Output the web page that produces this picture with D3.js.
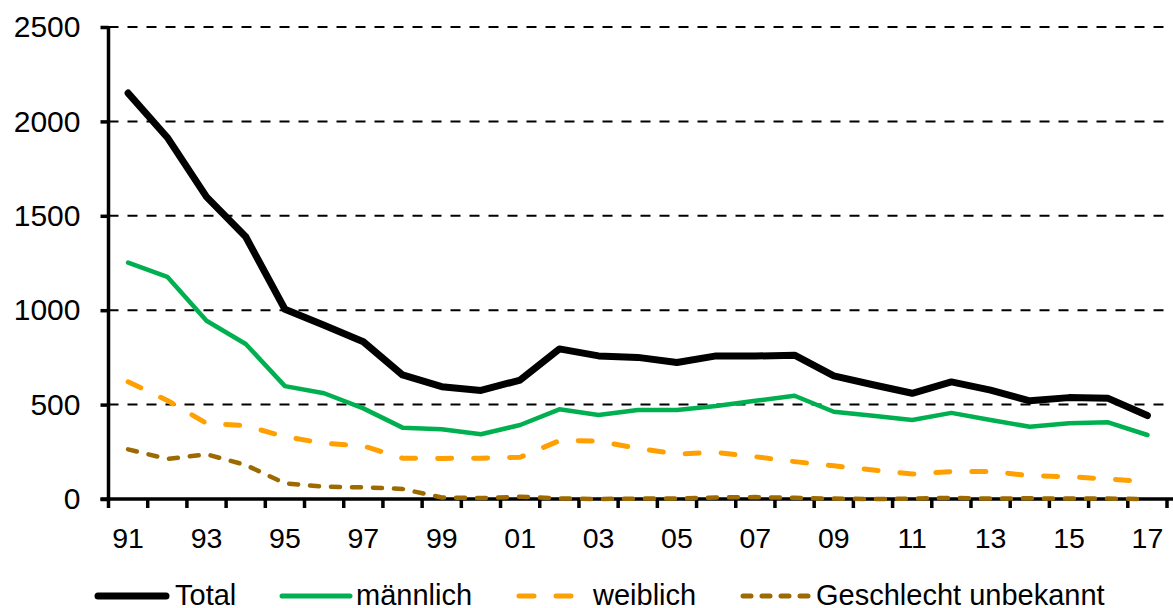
<!doctype html>
<html>
<head>
<meta charset="utf-8">
<script src="https://d3js.org/d3.v7.min.js"></script>
<style>
  body { margin: 0; background: #fff; }
  text { font-family: "Liberation Sans", Arial, sans-serif; }
</style>
</head>
<body>
<div id="chart"></div>
<script>
  var years = d3.range(1991, 2018);
  var yTicks = [0, 500, 1000, 1500, 2000, 2500];
  var total = [2150, 1915, 1600, 1389, 1005, 920, 833, 657, 595, 575, 630, 795, 758, 750, 723, 758, 757, 762, 652, 605, 560, 620, 577, 520, 537, 533, 442];
  var maennlich = [1252, 1177, 944, 821, 598, 560, 480, 378, 369, 343, 392, 475, 445, 471, 471, 493, 520, 547, 462, 441, 418, 456, 418, 383, 401, 406, 339];
  var weiblich = [621, 522, 401, 388, 330, 295, 281, 216, 215, 216, 221, 309, 307, 268, 238, 247, 224, 198, 176, 154, 132, 145, 145, 124, 118, 106, 92];
  var unbekannt = [263, 212, 237, 180, 83, 65, 62, 53, 8, 5, 12, 3, 0, 2, 3, 8, 10, 6, 2, 0, 2, 6, 2, 4, 2, 2, 0];
  var seriesNames = ["Total", "männlich", "weiblich", "Geschlecht unbekannt"];

  var width = 1173, height = 608;
  var plotLeft = 108.5, plotRight = 1167, plotTop = 27, plotBottom = 499;

  var svg = d3.select("#chart").append("svg")
    .attr("width", width)
    .attr("height", height);

  var x = d3.scaleBand()
    .domain(years)
    .range([plotLeft, plotRight]);

  var y = d3.scaleLinear()
    .domain([0, 2500])
    .range([plotBottom, plotTop]);

  // gridlines
  svg.selectAll(".grid")
    .data(yTicks.slice(1))
    .enter()
    .append("line")
    .attr("x1", plotLeft)
    .attr("x2", plotRight)
    .attr("y1", function(d) { return y(d); })
    .attr("y2", function(d) { return y(d); })
    .attr("stroke", "#000")
    .attr("stroke-width", 2)
    .attr("stroke-dasharray", "10,9");

  // Y axis
  var yAxis = svg.append("g")
    .attr("transform", "translate(" + plotLeft + ",0)")
    .call(d3.axisLeft(y).tickValues(yTicks).tickFormat(d3.format("d")).tickSize(8).tickPadding(20));
  yAxis.attr("font-size", null).attr("font-family", null);
  yAxis.select(".domain").attr("stroke-width", 3.5).attr("d", "M0," + (plotTop - 1) + "V" + (plotBottom + 1));
  yAxis.selectAll(".tick line").attr("stroke-width", 3.5);
  yAxis.selectAll("text").style("font-size", "30px").attr("fill", "#000");

  // X axis
  var xAxis = svg.append("g")
    .attr("transform", "translate(0," + plotBottom + ")");
  xAxis.append("line")
    .attr("x1", plotLeft - 8)
    .attr("x2", plotRight + 6)
    .attr("stroke", "#000")
    .attr("stroke-width", 3.5);
  var boundaries = years.map(function(d) { return x(d); }).concat([plotRight]);
  xAxis.selectAll(".xtick")
    .data(boundaries)
    .enter()
    .append("line")
    .attr("x1", function(d) { return d; })
    .attr("x2", function(d) { return d; })
    .attr("y1", 0)
    .attr("y2", 9)
    .attr("stroke", "#000")
    .attr("stroke-width", 3.5);
  xAxis.selectAll(".xlabel")
    .data(years.filter(function(d) { return d % 2 === 1; }))
    .enter()
    .append("text")
    .attr("x", function(d) { return x(d) + x.bandwidth() / 2; })
    .attr("y", 49)
    .attr("text-anchor", "middle")
    .style("font-size", "28.5px")
    .text(function(d) { return String(d % 100).padStart(2, "0"); });

  var styles = [
    { data: total, color: "#000000", width: 7, dash: null },
    { data: maennlich, color: "#00b050", width: 4.5, dash: null },
    { data: weiblich, color: "#ffa000", width: 5, dash: "14,22" },
    { data: unbekannt, color: "#9c6a00", width: 4.5, dash: "9,12" }
  ];

  var line = d3.line()
    .x(function(d, i) { return x(years[i]) + x.bandwidth() / 2; })
    .y(function(d) { return y(d); });

  svg.selectAll(".series")
    .data(styles)
    .enter()
    .append("path")
    .attr("d", function(s) { return line(s.data); })
    .attr("fill", "none")
    .attr("stroke", function(s) { return s.color; })
    .attr("stroke-width", function(s) { return s.width; })
    .attr("stroke-dasharray", function(s) { return s.dash; })
    .attr("stroke-linecap", "round")
    .attr("stroke-linejoin", "round");

  // legend
  var legendPos = [
    { x1: 98, x2: 166, tx: 175 },
    { x1: 282, x2: 350, tx: 356 },
    { x1: 519, x2: 575, tx: 593 },
    { x1: 743, x2: 808, tx: 816 }
  ];
  var legendDash = [null, null, "15,22", "8,11"];
  var legend = svg.selectAll(".legend")
    .data(seriesNames)
    .enter()
    .append("g");
  legend.append("line")
    .attr("x1", function(d, i) { return legendPos[i].x1; })
    .attr("x2", function(d, i) { return legendPos[i].x2; })
    .attr("y1", 596)
    .attr("y2", 596)
    .attr("stroke", function(d, i) { return styles[i].color; })
    .attr("stroke-width", function(d, i) { return i === 0 ? 7 : 5; })
    .attr("stroke-dasharray", function(d, i) { return legendDash[i]; })
    .attr("stroke-linecap", "round");
  legend.append("text")
    .attr("x", function(d, i) { return legendPos[i].tx; })
    .attr("y", 605)
    .style("font-size", "29px")
    .text(function(d) { return d; });
</script>
</body>
</html>
